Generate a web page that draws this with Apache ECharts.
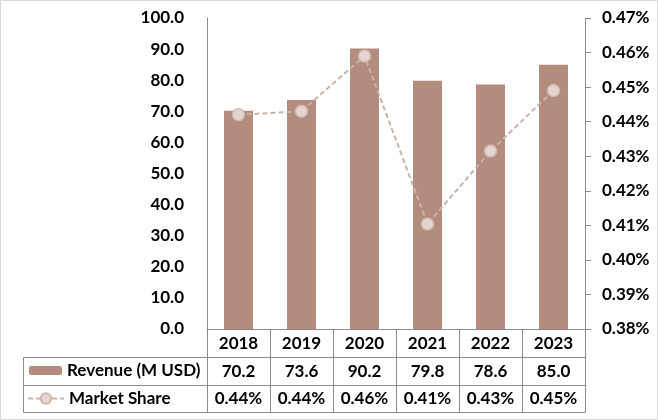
<!DOCTYPE html>
<html><head><meta charset="utf-8">
<script src="https://cdn.jsdelivr.net/npm/echarts@6/dist/echarts.min.js"></script>
<style>html,body{margin:0;padding:0;background:#fff}#c{width:658px;height:420px}</style>
</head><body><div id="c"></div>
<script>
const years = ['2018', '2019', '2020', '2021', '2022', '2023'];
const revenue = [70.2, 73.6, 90.2, 79.8, 78.6, 85.0];
const marketShare = [0.442, 0.443, 0.459, 0.4104, 0.4315, 0.449]; // in %
const seriesNames = ['Revenue (M USD)', 'Market Share'];

const FONT = 'Lato';
const txt = { fontFamily: FONT, fontWeight: 'bold', fontSize: 17, color: '#000' };
const lineCol = '#8c8c8c';

const chart = echarts.init(document.getElementById('c'));
const baseX = {
  type: 'category', data: years, position: 'bottom', gridIndex: 0,
  axisLine: { show: true, lineStyle: { color: lineCol, width: 1 } },
  axisTick: { show: true, interval: 0, length: 28, alignWithLabel: false, lineStyle: { color: lineCol, width: 1 } },
  axisLabel: Object.assign({ interval: 0, margin: 6 }, txt),
  splitLine: { show: false }
};
function ax(extra) { return echarts.util.merge(JSON.parse(JSON.stringify(baseX)), extra, true); }

const x1 = ax({ offset: 28 }); x1.axisLabel.formatter = (v) => revenue[years.indexOf(v)].toFixed(1);
const x2 = ax({ offset: 56, axisTick: { length: 27 }, axisLabel: { margin: 5 } }); x2.axisLabel.formatter = (v) => marketShare[years.indexOf(v)].toFixed(2) + '%';
const x3 = ax({ offset: 83, axisTick: { show: false }, axisLabel: { show: false } });

chart.setOption({
  animation: false,
  backgroundColor: '#fff',
  grid: { left: 207, right: 73, top: 18, bottom: 91, containLabel: false },
  legend: [
    { data: [seriesNames[0]], left: 29, top: 362, padding: 0, itemWidth: 33, itemHeight: 9, itemGap: 5, textStyle: txt, selectedMode: false },
    { data: [seriesNames[1]], left: 27, top: 390, padding: 0, itemWidth: 36, itemHeight: 13, itemGap: 5, textStyle: txt, selectedMode: false }
  ],
  xAxis: [ax({}), x1, x2, x3],
  yAxis: [
    { type: 'value', min: 0, max: 100, interval: 10, position: 'left',
      axisLine: { show: true, lineStyle: { color: lineCol } }, axisTick: { show: false },
      splitLine: { show: false },
      axisLabel: Object.assign({ margin: 23, formatter: v => v.toFixed(1) }, txt) },
    { type: 'value', min: 0.38, max: 0.47, interval: 0.01, position: 'right',
      axisLine: { show: true, lineStyle: { color: lineCol } },
      axisTick: { show: true, length: 6, lineStyle: { color: lineCol } },
      splitLine: { show: false },
      axisLabel: Object.assign({ margin: 17, formatter: v => v.toFixed(2) + '%' }, txt) }
  ],
  series: [
    { name: seriesNames[0], type: 'bar', data: revenue, barWidth: 29, xAxisIndex: 0, yAxisIndex: 0,
      itemStyle: { color: '#b48c7e' } },
    { name: seriesNames[1], type: 'line', data: marketShare, xAxisIndex: 0, yAxisIndex: 1,
      symbol: 'circle', symbolSize: 12,
      lineStyle: { color: '#c8b3ab', width: 2, type: [5, 3] },
      itemStyle: { color: '#e6d5cf', borderColor: '#cdb9b1', borderWidth: 1.5 } }
  ],
  graphic: [
    { type: 'rect', shape: { x: 0.5, y: 0.5, width: 657, height: 419 }, style: { fill: 'none', stroke: '#d9d9d9', lineWidth: 1 } },
    { type: 'line', shape: { x1: 23.5, y1: 357.5, x2: 207, y2: 357.5 }, style: { stroke: lineCol, lineWidth: 1 } },
    { type: 'line', shape: { x1: 23.5, y1: 385.5, x2: 207, y2: 385.5 }, style: { stroke: lineCol, lineWidth: 1 } },
    { type: 'line', shape: { x1: 23.5, y1: 412.5, x2: 207, y2: 412.5 }, style: { stroke: lineCol, lineWidth: 1 } },
    { type: 'line', shape: { x1: 23.5, y1: 357.5, x2: 23.5, y2: 412.5 }, style: { stroke: lineCol, lineWidth: 1 } }
  ]
});
</script></body></html>
